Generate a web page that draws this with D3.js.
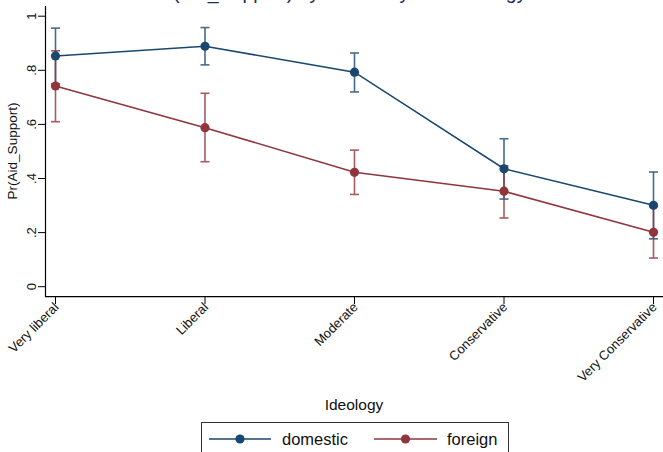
<!DOCTYPE html>
<html><head><meta charset="utf-8">
<script src="https://cdn.jsdelivr.net/npm/d3@7"></script>
<style>body{margin:0;background:#fff}svg{display:block;font-family:"Liberation Sans",Arial,sans-serif}</style>
</head><body><svg id="c" width="663" height="452"></svg>
<script>
const categories = ["Very liberal","Liberal","Moderate","Conservative","Very Conservative"];
const domestic = [0.853,0.889,0.793,0.436,0.301];
const domesticLo = [0.750,0.820,0.720,0.324,0.177];
const domesticHi = [0.956,0.958,0.864,0.547,0.424];
const foreign = [0.742,0.588,0.423,0.353,0.201];
const foreignLo = [0.610,0.462,0.341,0.254,0.106];
const foreignHi = [0.872,0.715,0.505,0.447,0.296];
const yTicks = [0,0.2,0.4,0.6,0.8,1];
const yTickLabels = ["0",".2",".4",".6",".8","1"];
const seriesNames = ["domestic","foreign"];
const colors = ["#1a476f","#90353b"];

const svg = d3.select("#c");
const x = d3.scalePoint().domain(categories).range([55.5,653.5]);
const y = d3.scaleLinear().domain([0,1]).range([286.7,16.2]);

// title (cropped at top)
svg.append("text").attr("x",340).attr("y",-1).attr("text-anchor","middle")
  .attr("font-size",19.5).attr("fill","#1e2d5a").text("Pr(Aid_Support) by Aid Policy and Ideology");

// axes
svg.append("line").attr("x1",45.5).attr("x2",45.5).attr("y1",6).attr("y2",297).attr("stroke","#000").attr("stroke-width",1.2);
svg.append("line").attr("x1",45).attr("x2",663).attr("y1",296.7).attr("y2",296.7).attr("stroke","#000").attr("stroke-width",1.2);

const yg = svg.append("g");
yTicks.forEach((t,i)=>{
  yg.append("line").attr("x1",38).attr("x2",45.5).attr("y1",y(t)).attr("y2",y(t)).attr("stroke","#000");
  yg.append("text").attr("transform",`translate(35.5,${y(t)}) rotate(-90)`).attr("text-anchor","middle")
    .attr("font-size",13).attr("fill","#111").text(yTickLabels[i]);
});
const xg = svg.append("g");
categories.forEach(c=>{
  xg.append("line").attr("x1",x(c)).attr("x2",x(c)).attr("y1",296.7).attr("y2",304).attr("stroke","#000");
  xg.append("text").attr("transform",`translate(${x(c)+4},${308}) rotate(-45)`).attr("text-anchor","end")
    .attr("font-size",13).attr("fill","#111").text(c);
});

svg.append("text").attr("transform","translate(17,151) rotate(-90)").attr("text-anchor","middle")
  .attr("font-size",13.5).attr("fill","#111").text("Pr(Aid_Support)");
svg.append("text").attr("x",354).attr("y",410).attr("text-anchor","middle")
  .attr("font-size",15.5).attr("fill","#111").text("Ideology");

const series = [
  {vals:domestic, lo:domesticLo, hi:domesticHi},
  {vals:foreign, lo:foreignLo, hi:foreignHi}
];
// CIs
series.forEach((s,k)=>{
  const g = svg.append("g").attr("stroke",colors[k]).attr("stroke-width",1.6).attr("opacity",0.8);
  categories.forEach((c,i)=>{
    g.append("line").attr("x1",x(c)).attr("x2",x(c)).attr("y1",y(s.lo[i])).attr("y2",y(s.hi[i]));
    g.append("line").attr("x1",x(c)-4.5).attr("x2",x(c)+4.5).attr("y1",y(s.lo[i])).attr("y2",y(s.lo[i]));
    g.append("line").attr("x1",x(c)-4.5).attr("x2",x(c)+4.5).attr("y1",y(s.hi[i])).attr("y2",y(s.hi[i]));
  });
});
// lines + points
const line = d3.line().x((d,i)=>x(categories[i])).y(d=>y(d));
series.forEach((s,k)=>{
  svg.append("path").attr("d",line(s.vals)).attr("fill","none").attr("stroke",colors[k]).attr("stroke-width",1.6);
});
series.forEach((s,k)=>{
  svg.append("g").selectAll("circle").data(s.vals).join("circle")
    .attr("cx",(d,i)=>x(categories[i])).attr("cy",d=>y(d)).attr("r",4.6).attr("fill",colors[k]);
});

// legend
svg.append("rect").attr("x",201.5).attr("y",422.5).attr("width",307).attr("height",40)
  .attr("fill","#fff").attr("stroke","#333").attr("stroke-width",1);
const legX = [[209,271,282],[374,437,447]];
seriesNames.forEach((n,k)=>{
  const [a,b,t] = legX[k];
  svg.append("line").attr("x1",a).attr("x2",b).attr("y1",439).attr("y2",439).attr("stroke",colors[k]).attr("stroke-width",1.6);
  svg.append("circle").attr("cx",(a+b)/2).attr("cy",439).attr("r",4.6).attr("fill",colors[k]);
  svg.append("text").attr("x",t).attr("y",445).attr("font-size",16.5).attr("fill","#111").text(n);
});
</script></body></html>
